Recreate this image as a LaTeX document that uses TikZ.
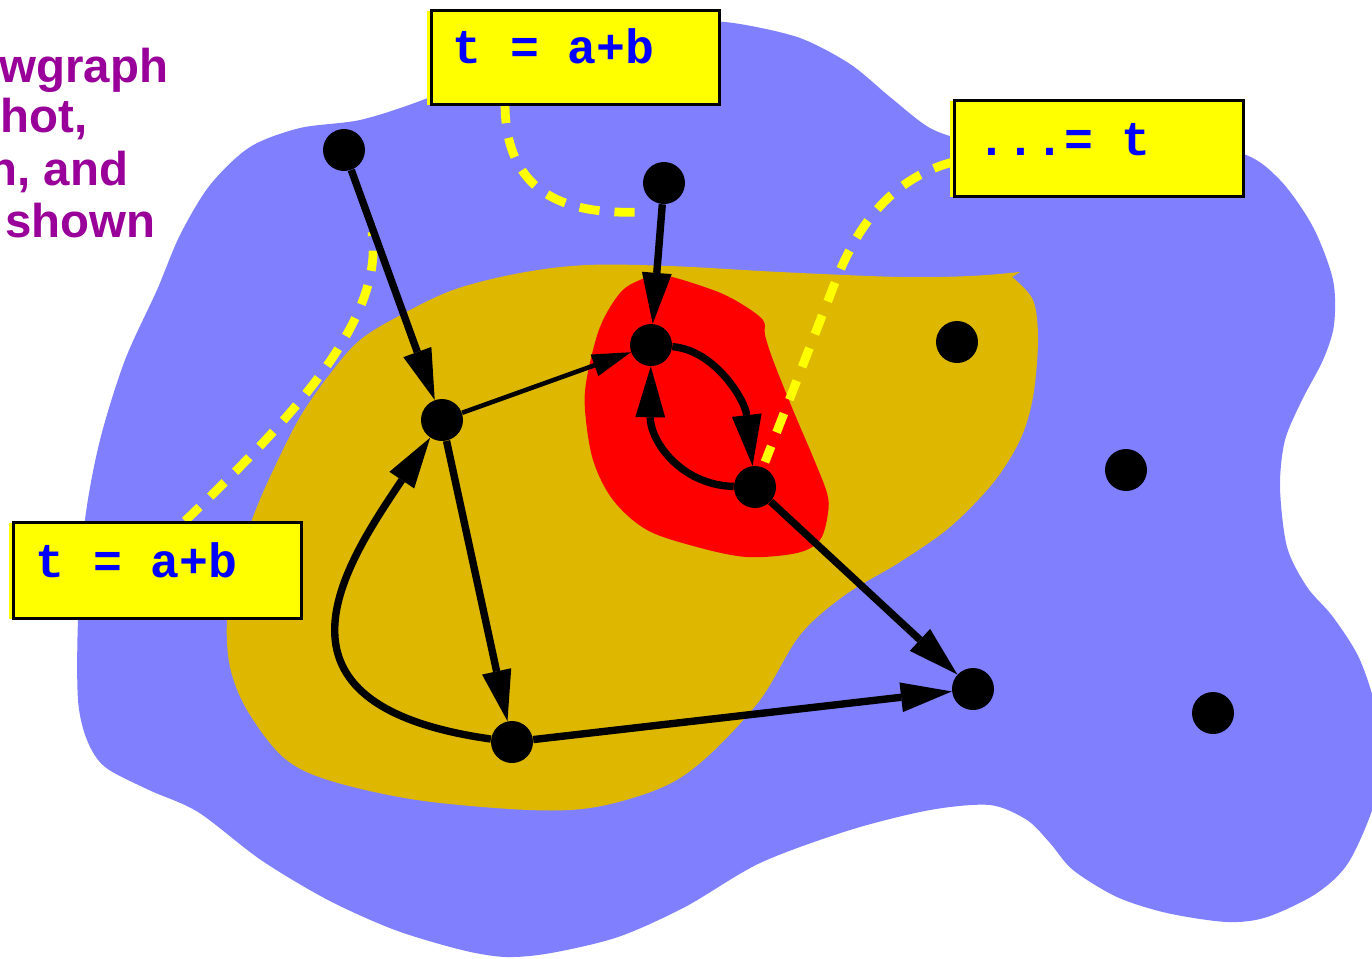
\documentclass[tikz,border=0pt]{standalone}
\usepackage{fontspec}
\setmainfont{Liberation Sans}
\setmonofont{Liberation Mono}
\usetikzlibrary{arrows.meta}
\definecolor{blobblue}{RGB}{128,128,255}
\definecolor{blobolive}{RGB}{221,183,0}
\definecolor{blobred}{RGB}{255,0,0}
\definecolor{boxyellow}{RGB}{255,255,0}
\definecolor{codeblue}{RGB}{0,0,255}
\definecolor{titlepurple}{RGB}{153,0,153}
\begin{document}
\begin{tikzpicture}[x=0.02cm,y=-0.02cm,
  dot/.style={circle,fill=black,inner sep=0pt,minimum size=0.84cm},
  thickedge/.style={line width=4.2pt,-{Triangle[length=29pt,width=17pt,line width=0pt]}},
  thinedge/.style={line width=2.6pt,-{Triangle[length=22pt,width=13pt,line width=0pt]}},
  hint/.style={draw=boxyellow,line width=5pt,dash pattern=on 11.5pt off 8.5pt},
  codebox/.style={draw=black,line width=1.7pt,fill=boxyellow,inner sep=0pt,anchor=north west},
  code/.style={font=\fontsize{27.4}{30}\selectfont\ttfamily\bfseries,text=codeblue,inner sep=0pt,anchor=base west},
  title/.style={font=\fontsize{27}{30}\selectfont\bfseries,text=titlepurple,inner sep=0pt,anchor=base west}
]
\useasboundingbox[fill=white] (0,0) rectangle (1372,958);

% regions
\fill[blobblue] plot[smooth cycle,tension=0.5] coordinates {
 (250,147) (300,128) (360,120) (420,101) (500,68) (620,33) (700,22) (740,24)
 (800,38) (850,64) (890,97) (930,128) (970,140) (1050,143) (1150,145) (1240,153)
 (1280,180) (1313,227) (1333,280) (1334,325) (1323,360) (1302,400) (1285,440) (1280,487)
 (1287,547) (1307,587) (1333,617) (1360,660) (1378,720) (1378,790) (1350,860)
 (1317,893) (1267,917) (1227,922) (1167,913) (1117,897) (1073,870) (1050,843)
 (1027,820) (990,805) (930,810) (850,830) (760,863) (685,907) (618,937)
 (551,953) (506,957) (462,950) (395,930) (328,900) (261,860) (198,812)
 (149,790) (105,767) (87,740) (78,700) (78,620) (85,520) (100,440) (125,360)
 (157,290) (180,235) (210,185)};

\fill[blobolive] plot[smooth,tension=0.55] coordinates {
 (1012,277) (1033,300) (1038,340) (1033,397) (1020,440) (993,483) (950,527)
 (900,562) (845,595) (800,635) (760,700) (707,757) (663,787) (596,807)
 (529,810) (417,800) (328,780) (283,757) (247,710) (230,667) (227,620)
 (235,570) (253,517) (270,477) (300,417) (333,370) (360,340) (397,317)
 (453,290) (520,273) (587,265) (670,266) (780,272) (900,277) (970,276) (1020,272)} -- cycle;

\fill[blobred] plot[smooth cycle,tension=0.55] coordinates {
 (663,275) (713,290) (740,303) (763,320) (765,335) (773,360) (793,410)
 (813,457) (827,493) (828,513) (820,540) (797,553) (747,557) (697,547)
 (647,530) (613,500) (593,460) (585,410) (587,377) (600,327) (620,293) (640,280)};

% boxes (shadow first)
\fill[boxyellow] (427,11) rectangle (715,105);
\fill[boxyellow] (9,523) rectangle (297,619);
\fill[boxyellow] (950,101) rectangle (1239,197);

% dashed hints
\coordinate (h1s) at (505,103);
\coordinate (h1e) at (640,212);
\coordinate (h2s) at (185,521);
\coordinate (h2e) at (372,232);
\coordinate (h3s) at (953,162);
\coordinate (h3m) at (838,275);
\coordinate (h3e) at (765,462);
\draw[hint] (h1s) .. controls (505,190) and (560,215) .. (h1e);
\draw[hint] (h2s) .. controls (290,420) and (385,320) .. (h2e);
\draw[hint] (h3s) .. controls (885,180) and (855,235) .. (h3m) -- (h3e);

% nodes
\node[dot] (A) at (344,150) {};
\node[dot] (B) at (664,183) {};
\node[dot] (C) at (651,345) {};
\node[dot] (D) at (957,342) {};
\node[dot] (E) at (442,420) {};
\node[dot] (F) at (755,487) {};
\node[dot] (G) at (1126,470) {};
\node[dot] (H) at (512,742) {};
\node[dot] (I) at (973,689) {};
\node[dot] (J) at (1213,713) {};

% edges
\draw[thickedge] (A) -- (E);
\draw[thickedge] (B) -- (C);
\draw[thinedge] (E) -- (C);
\draw[thickedge] (E) -- (H);
\draw[thickedge] (H) -- (I);
\draw[thickedge] (F) -- (I);
\draw[thickedge] (H) .. controls (250,705) and (345,565) .. (E);
\draw[thickedge] (C) .. controls (715,350) and (745,400) .. (F);
\draw[thickedge] (F) .. controls (680,485) and (650,440) .. (C);

% code boxes
\node[codebox,minimum width=5.76cm,minimum height=1.88cm] (topbox) at (430,9) {};
\node[codebox,minimum width=5.76cm,minimum height=1.92cm] (leftbox) at (12,521) {};
\node[codebox,minimum width=5.78cm,minimum height=1.92cm] (rightbox) at (953,99) {};
\node[code] (toptext) at (452,63) {t = a+b};
\node[code] (lefttext) at (35,577) {t = a+b};
\node[code] (righttext) at (977,155) {...= t};

% title fragment
\node[title] (t1) at (-1,82) {wgraph};
\node[title] (t2) at (0,132) {hot,};
\node[title] (t3) at (-12,185) {n, and};
\node[title] (t4) at (5,237) {shown};
\end{tikzpicture}
\end{document}
